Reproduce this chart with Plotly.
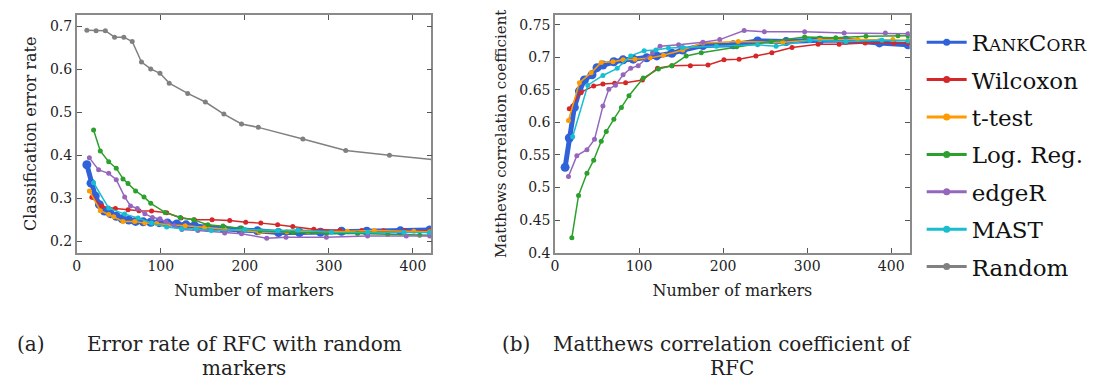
import plotly.graph_objects as go

# ---------------- data ----------------
methods = ["RankCorr", "Wilcoxon", "t-test", "Log. Reg.", "edgeR", "MAST", "Random"]
legend_labels = [
    "R<span style='font-size:17px'>ANK</span>C<span style='font-size:17px'>ORR</span>",
    "Wilcoxon", "t-test", "Log. Reg.", "edgeR", "MAST", "Random",
]
colors = ["#2f62d8", "#d62728", "#ff9a00", "#2ca02c", "#9467bd", "#17becf", "#808080"]

# (a) classification error rate
err_rankcorr_x = [12, 17, 22, 27, 33, 40, 47, 54, 62, 70, 79, 88, 98, 108, 119, 130, 140, 155, 175, 195, 215, 240, 265, 290, 315, 345, 385, 420]
err_rankcorr_y = [0.378, 0.335, 0.305, 0.285, 0.270, 0.264, 0.258, 0.252, 0.249, 0.246, 0.245, 0.244, 0.243, 0.242, 0.240, 0.238, 0.236, 0.232, 0.228, 0.226, 0.224, 0.220, 0.220, 0.221, 0.223, 0.223, 0.224, 0.226]
err_wilcoxon_x = [18, 30, 46, 61, 74, 89, 107, 124, 140, 161, 182, 201, 219, 239, 257, 282, 313, 339, 365, 390, 420]
err_wilcoxon_y = [0.302, 0.281, 0.276, 0.273, 0.271, 0.270, 0.266, 0.254, 0.250, 0.250, 0.248, 0.244, 0.242, 0.238, 0.234, 0.228, 0.225, 0.225, 0.224, 0.224, 0.224]
err_ttest_x = [15, 28, 38, 44, 55, 69, 81, 95, 109, 129, 152, 176, 217, 250, 275, 322, 354, 401, 420]
err_ttest_y = [0.317, 0.271, 0.262, 0.257, 0.246, 0.246, 0.242, 0.241, 0.238, 0.236, 0.232, 0.227, 0.221, 0.222, 0.222, 0.223, 0.225, 0.223, 0.222]
err_logreg_x = [20, 28, 38, 47, 55, 61, 70, 80, 88, 105, 123, 139, 156, 174, 196, 218, 257, 297, 334, 370, 408, 420]
err_logreg_y = [0.459, 0.410, 0.385, 0.370, 0.345, 0.334, 0.317, 0.303, 0.288, 0.267, 0.255, 0.250, 0.238, 0.235, 0.230, 0.224, 0.221, 0.218, 0.218, 0.216, 0.214, 0.214]
err_edger_x = [15, 26, 38, 47, 57, 64, 72, 81, 90, 99, 106, 116, 125, 144, 176, 196, 226, 249, 297, 346, 392, 420]
err_edger_y = [0.394, 0.366, 0.358, 0.343, 0.303, 0.282, 0.276, 0.264, 0.255, 0.252, 0.245, 0.236, 0.227, 0.225, 0.219, 0.217, 0.207, 0.209, 0.209, 0.212, 0.212, 0.212]
err_mast_x = [20, 38, 57, 73, 89, 107, 125, 142, 160, 200, 239, 263, 303, 346, 389, 420]
err_mast_y = [0.336, 0.277, 0.263, 0.254, 0.242, 0.233, 0.229, 0.229, 0.225, 0.227, 0.225, 0.226, 0.221, 0.221, 0.221, 0.220]
err_random_x = [12, 23, 34, 45, 56, 66, 77, 88, 99, 110, 132, 153, 175, 196, 216, 269, 320, 372, 424]
err_random_y = [0.691, 0.690, 0.690, 0.675, 0.675, 0.665, 0.617, 0.601, 0.591, 0.568, 0.544, 0.524, 0.496, 0.473, 0.465, 0.438, 0.411, 0.400, 0.390]

# (b) Matthews correlation coefficient
mcc_rankcorr_x = [12, 17, 23, 29, 35, 44, 50, 57, 70, 81, 93, 109, 121, 139, 152, 176, 212, 241, 275, 315, 346, 386, 420]
mcc_rankcorr_y = [0.531, 0.576, 0.623, 0.648, 0.665, 0.673, 0.684, 0.688, 0.693, 0.696, 0.697, 0.699, 0.702, 0.706, 0.711, 0.718, 0.719, 0.725, 0.724, 0.726, 0.726, 0.722, 0.719]
mcc_wilcoxon_x = [17, 31, 46, 57, 71, 84, 104, 122, 139, 161, 182, 201, 219, 239, 258, 282, 313, 338, 369, 403, 420]
mcc_wilcoxon_y = [0.621, 0.646, 0.656, 0.659, 0.660, 0.661, 0.665, 0.683, 0.687, 0.687, 0.688, 0.696, 0.697, 0.702, 0.707, 0.715, 0.720, 0.720, 0.722, 0.722, 0.722]
mcc_ttest_x = [16, 29, 43, 55, 69, 81, 95, 113, 129, 152, 176, 218, 271, 315, 360, 402, 420]
mcc_ttest_y = [0.603, 0.661, 0.676, 0.692, 0.693, 0.696, 0.697, 0.699, 0.703, 0.711, 0.722, 0.724, 0.723, 0.727, 0.727, 0.727, 0.726]
mcc_logreg_x = [20, 28, 38, 46, 55, 61, 70, 79, 88, 105, 123, 139, 156, 174, 216, 257, 297, 334, 370, 408, 420]
mcc_logreg_y = [0.423, 0.488, 0.522, 0.542, 0.571, 0.586, 0.605, 0.623, 0.641, 0.668, 0.682, 0.687, 0.702, 0.707, 0.716, 0.724, 0.731, 0.730, 0.732, 0.733, 0.733]
mcc_edger_x = [16, 26, 38, 47, 57, 64, 72, 81, 90, 99, 116, 125, 147, 176, 196, 225, 249, 297, 344, 393, 420]
mcc_edger_y = [0.517, 0.549, 0.558, 0.574, 0.625, 0.651, 0.657, 0.673, 0.683, 0.687, 0.707, 0.717, 0.719, 0.723, 0.727, 0.741, 0.739, 0.739, 0.737, 0.737, 0.736]
mcc_mast_x = [21, 39, 57, 74, 90, 106, 120, 135, 152, 192, 241, 263, 303, 346, 389, 420]
mcc_mast_y = [0.578, 0.657, 0.672, 0.683, 0.702, 0.710, 0.711, 0.714, 0.715, 0.717, 0.719, 0.717, 0.726, 0.724, 0.726, 0.725]

err_series = [
    (err_rankcorr_x, err_rankcorr_y), (err_wilcoxon_x, err_wilcoxon_y), (err_ttest_x, err_ttest_y),
    (err_logreg_x, err_logreg_y), (err_edger_x, err_edger_y), (err_mast_x, err_mast_y),
    (err_random_x, err_random_y),
]
mcc_series = [
    (mcc_rankcorr_x, mcc_rankcorr_y), (mcc_wilcoxon_x, mcc_wilcoxon_y), (mcc_ttest_x, mcc_ttest_y),
    (mcc_logreg_x, mcc_logreg_y), (mcc_edger_x, mcc_edger_y), (mcc_mast_x, mcc_mast_y),
]

x_ticks = [0, 100, 200, 300, 400]
err_ticks = [0.2, 0.3, 0.4, 0.5, 0.6, 0.7]
mcc_ticks = [0.4, 0.45, 0.5, 0.55, 0.6, 0.65, 0.7, 0.75]

SERIF = "DejaVu Serif"
W, H = 1098, 381

fig = go.Figure()

def style(i):
    if i == 0:
        return dict(width=5, color=colors[i]), dict(size=9, color=colors[i])
    return dict(width=1.5, color=colors[i]), dict(size=5, color=colors[i])

for i, (xs, ys) in enumerate(err_series):
    ln, mk = style(i)
    fig.add_trace(go.Scatter(x=xs, y=ys, mode="lines+markers", line=ln, marker=mk,
                             showlegend=False, xaxis="x", yaxis="y", hoverinfo="skip"))
for i, (xs, ys) in enumerate(mcc_series):
    ln, mk = style(i)
    fig.add_trace(go.Scatter(x=xs, y=ys, mode="lines+markers", line=ln, marker=mk,
                             showlegend=False, xaxis="x2", yaxis="y2", hoverinfo="skip"))
# legend entries
for i, lab in enumerate(legend_labels):
    fig.add_trace(go.Scatter(x=[None], y=[None], mode="lines+markers", name=lab,
                             line=dict(width=3, color=colors[i]), marker=dict(size=7, color=colors[i]),
                             legendgroup=methods[i], xaxis="x", yaxis="y"))

axis_common = dict(showline=True, linecolor="#8a8a8a", linewidth=1.5, mirror="ticks",
                   ticks="inside", ticklen=5, tickcolor="#555555", tickwidth=1,
                   showgrid=False, zeroline=False,
                   tickfont=dict(family=SERIF, size=14, color="#222222"))

title_font = dict(family=SERIF, size=16, color="#222222")
title_font_small = dict(family=SERIF, size=15, color="#222222")
fig.update_layout(
    width=W, height=H,
    margin=dict(l=0, r=0, t=0, b=0),
    paper_bgcolor="white", plot_bgcolor="white",
    font=dict(family=SERIF, color="#222222"),
    xaxis=dict(domain=[65 / W, 421 / W], range=[0, 422], tickvals=x_ticks, anchor="y",
               title=dict(text="Number of markers", font=title_font, standoff=11),
               **axis_common),
    yaxis=dict(domain=[131 / H, 374 / H], range=[0.173, 0.727], tickvals=err_ticks, anchor="x",
               title=dict(text="Classification error rate", font=title_font, standoff=9),
               **axis_common),
    xaxis2=dict(domain=[545 / W, 901 / W], range=[0, 422], tickvals=x_ticks, anchor="y2",
                title=dict(text="Number of markers", font=title_font, standoff=11),
                **axis_common),
    yaxis2=dict(domain=[131 / H, 374 / H], range=[0.4, 0.765], tickvals=mcc_ticks, anchor="x2",
                title=dict(text="Matthews correlation coefficient", font=title_font_small, standoff=9),
                **axis_common),
    legend=dict(x=913 / W, y=1 - 13 / H, xanchor="left", yanchor="top",
                font=dict(family=SERIF, size=23, color="#111111"),
                tracegroupgap=4.5, bgcolor="rgba(0,0,0,0)", itemwidth=40),
)

cap_font = dict(family=SERIF, size=20, color="#222222")
captions = [
    ("(a)", 3, 343, "left"),
    ("Error rate of RFC with random", 233, 343, "center"),
    ("markers", 233, 368, "center"),
    ("(b)", 490, 343, "left"),
    ("Matthews correlation coefficient of", 723, 343, "center"),
    ("RFC", 723, 368, "center"),
]
for txt, px, py, anc in captions:
    fig.add_annotation(text=txt, x=px / W, y=1 - py / H, xref="paper", yref="paper",
                       xanchor=anc, yanchor="middle", showarrow=False, font=cap_font)

fig.write_html("out.html")
